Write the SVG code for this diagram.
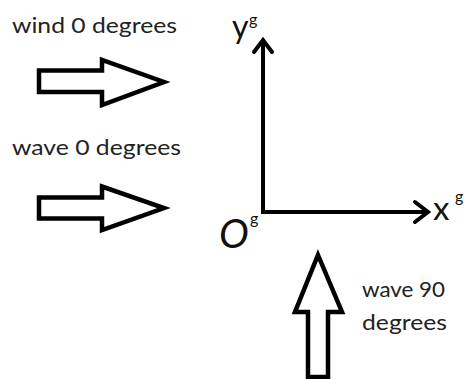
<svg xmlns="http://www.w3.org/2000/svg" width="464" height="379" viewBox="0 0 464 379">
<style>
.lbl{font-family:Lato,"Open Sans",sans-serif;font-size:22px;fill:#222}
.ax{font-family:Lato,"Open Sans",sans-serif;fill:#111}
.bigarrow{fill:#fff;stroke:#000;stroke-width:4.5;stroke-linejoin:miter}
.axis{fill:none;stroke:#000;stroke-width:4;stroke-linecap:butt}
.chev{fill:none;stroke:#000;stroke-width:4;stroke-linejoin:miter;stroke-linecap:round}
</style>
<rect width="464" height="379" fill="#fff"/>
<g id="wind">
<text class="lbl" x="12" y="33" textLength="165" lengthAdjust="spacingAndGlyphs">wind 0 degrees</text>
<polygon class="bigarrow" points="39,70.5 102,70.5 102,60 164,82 102,105 102,92 39,92"/>
</g>
<g id="wave0">
<text class="lbl" x="12" y="155" textLength="169" lengthAdjust="spacingAndGlyphs">wave 0 degrees</text>
<polygon class="bigarrow" points="39,197.5 102,197.5 102,186.5 164,208 102,230 102,218.5 39,218.5"/>
</g>
<g id="wave90">
<polygon class="bigarrow" points="318,255 342,312 328,312 328,377 308,377 308,312 295,312"/>
<text class="lbl" x="362" y="297" textLength="83" lengthAdjust="spacingAndGlyphs">wave 90</text>
<text class="lbl" x="362" y="330" textLength="85" lengthAdjust="spacingAndGlyphs">degrees</text>
</g>
<g id="connectors">
<line class="axis" x1="263" y1="42" x2="263" y2="214"/>
<line class="axis" x1="261" y1="212" x2="426" y2="212"/>
<polyline class="chev" points="254,52 263,40 272,52"/>
<polyline class="chev" points="415,202 428,212 415,222"/>
</g>
<g id="labels">
<text class="ax" x="232" y="38" font-size="32">y</text>
<text class="ax" x="249" y="25" font-size="16">g</text>
<text class="ax" x="433" y="220" font-size="33">x</text>
<text class="ax" x="455" y="202" font-size="16">g</text>
<text class="ax" x="219" y="248" font-size="40" font-style="italic" font-family="'Open Sans',sans-serif">O</text>
<text class="ax" x="250" y="224" font-size="16">g</text>
</g>
</svg>
